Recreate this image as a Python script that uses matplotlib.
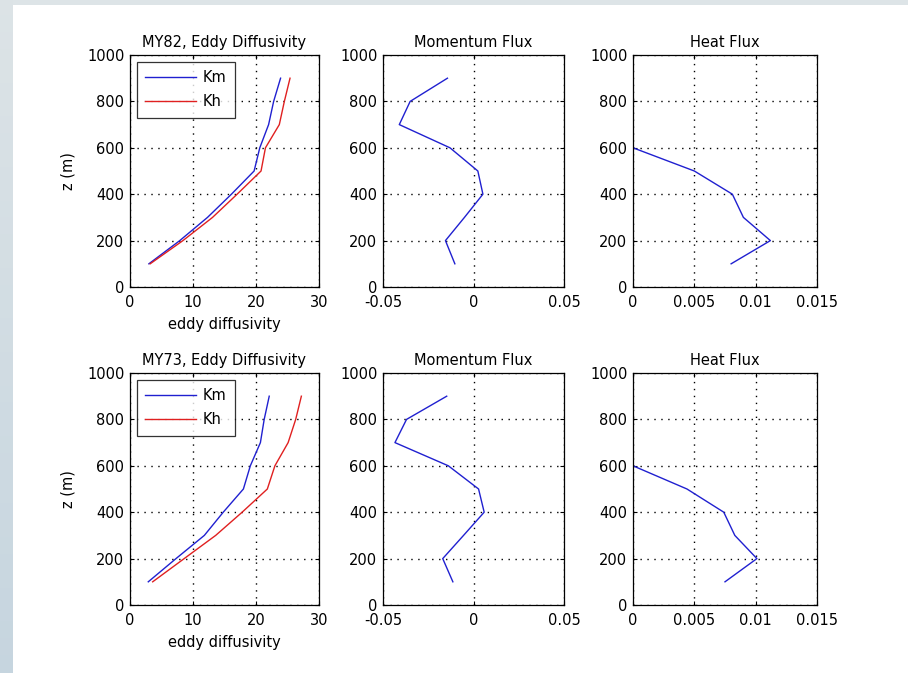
import matplotlib
matplotlib.use("Agg")
import matplotlib.pyplot as plt
from matplotlib.patches import Rectangle
import numpy as np

plt.rcParams['font.family'] = ['DejaVu Sans']

z = [100, 200, 300, 400, 500, 600, 700, 800, 900]
z_heat = [100, 200, 300, 400, 500, 600]

# MY82
km_82 = [3.0, 7.9, 12.3, 16.1, 19.7, 20.6, 22.0, 22.8, 23.9]
kh_82 = [3.2, 8.4, 13.1, 17.0, 20.8, 21.5, 23.7, 24.5, 25.4]
mom_82 = [-0.0103, -0.0155, -0.0050, 0.0052, 0.0024, -0.013, -0.041, -0.035, -0.0144]
heat_82 = [0.0080, 0.0112, 0.0090, 0.0081, 0.0050, 0.0]

# MY73
km_73 = [2.9, 7.3, 11.8, 14.8, 18.0, 19.1, 20.7, 21.3, 22.1]
kh_73 = [3.6, 8.6, 13.6, 17.8, 21.8, 23.0, 25.1, 26.3, 27.2]
mom_73 = [-0.0114, -0.017, -0.0055, 0.0059, 0.0028, -0.0139, -0.0434, -0.037, -0.0148]
heat_73 = [0.0075, 0.0101, 0.0083, 0.0074, 0.0044, 0.0]

titles_top = ["MY82, Eddy Diffusivity", "Momentum Flux", "Heat Flux"]
titles_bot = ["MY73, Eddy Diffusivity", "Momentum Flux", "Heat Flux"]

W, H = 908, 673
fig = plt.figure(figsize=(W / 100, H / 100), dpi=100)
fig.patch.set_facecolor('white')
# screenshot frame
fig.patches.append(Rectangle((0, 1 - 5 / H), 1, 5 / H, transform=fig.transFigure,
                             facecolor='#dde4e7', edgecolor='none', zorder=0))
ngrad = 40
for i in range(ngrad):
    t = i / (ngrad - 1)
    c = np.array([0xdc, 0xe3, 0xe6]) * (1 - t) + np.array([0xc6, 0xd5, 0xdf]) * t
    fig.patches.append(Rectangle((0, 1 - (i + 1) / ngrad), 13 / W, 1 / ngrad + 0.002,
                                 transform=fig.transFigure, facecolor=c / 255,
                                 edgecolor='none', zorder=0))

def px_axes(x0, x1, y0, y1):
    return fig.add_axes([x0 / W, 1 - y1 / H, (x1 - x0) / W, (y1 - y0) / H])

cols = [(130, 319), (383, 564), (633, 817)]
rows = [(55, 287), (373, 605)]

fs = 10.5
blue = '#2020d0'
red = '#e02020'

def style(ax, xlim, xticks, xticklabels):
    ax.set_xlim(*xlim)
    ax.set_ylim(0, 1000)
    ax.set_xticks(xticks)
    ax.set_xticklabels(xticklabels)
    ax.set_yticks([0, 200, 400, 600, 800, 1000])
    ax.grid(True, color='black', linestyle=(0, (1, 4)), linewidth=1.0)
    ax.tick_params(direction='in', length=3, width=0.8, labelsize=fs,
                   top=True, right=True)
    ax.tick_params(axis='x', pad=6)
    ax.tick_params(axis='y', pad=4)
    for s in ax.spines.values():
        s.set_linewidth(0.9)

for r, (km, kh, mom, heat, titles) in enumerate([
        (km_82, kh_82, mom_82, heat_82, titles_top),
        (km_73, kh_73, mom_73, heat_73, titles_bot)]):
    y0, y1 = rows[r]
    ax1 = px_axes(cols[0][0], cols[0][1], y0, y1)
    ax1.plot(km, z, color=blue, lw=1.0, label='Km')
    ax1.plot(kh, z, color=red, lw=1.0, label='Kh')
    style(ax1, (0, 30), [0, 10, 20, 30], ['0', '10', '20', '30'])
    ax1.set_title(titles[0], fontsize=fs, pad=6)
    ax1.set_xlabel('eddy diffusivity', fontsize=fs, labelpad=5)
    ax1.set_ylabel('z (m)', fontsize=fs, labelpad=8)
    leg = ax1.legend(loc='upper left', fontsize=fs, frameon=True, fancybox=False,
                     edgecolor='black', handlelength=3.5, borderpad=0.6,
                     handletextpad=0.4, labelspacing=0.6, borderaxespad=0.45)
    leg.get_frame().set_linewidth(0.9)

    ax2 = px_axes(cols[1][0], cols[1][1], y0, y1)
    ax2.plot(mom, z, color=blue, lw=1.0)
    style(ax2, (-0.05, 0.05), [-0.05, 0, 0.05], ['-0.05', '0', '0.05'])
    ax2.set_title(titles[1], fontsize=fs, pad=6)

    ax3 = px_axes(cols[2][0], cols[2][1], y0, y1)
    ax3.plot(heat, z_heat, color=blue, lw=1.0)
    style(ax3, (0, 0.015), [0, 0.005, 0.01, 0.015], ['0', '0.005', '0.01', '0.015'])
    ax3.set_title(titles[2], fontsize=fs, pad=6)

fig.savefig('out.png', dpi=100)
